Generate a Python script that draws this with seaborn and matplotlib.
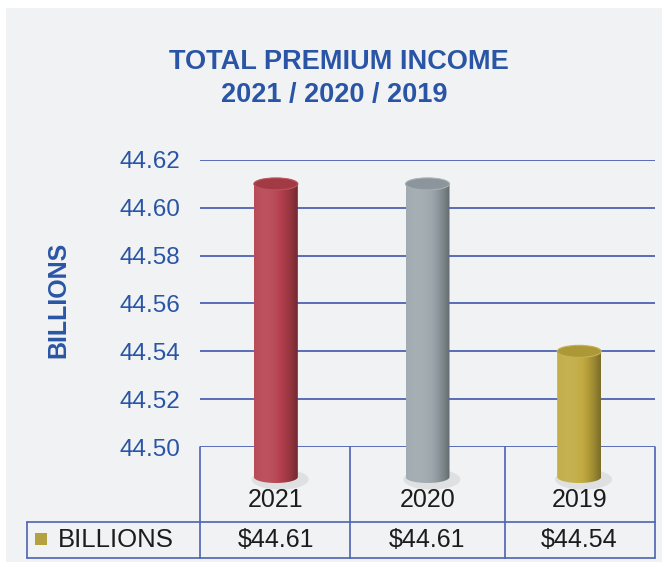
import numpy as np
import pandas as pd
import matplotlib
matplotlib.use("Agg")
import matplotlib.pyplot as plt
from matplotlib.patches import Ellipse, Rectangle
from matplotlib.lines import Line2D
from matplotlib.path import Path
from matplotlib.colors import to_rgb
import seaborn as sns

# ---- data -------------------------------------------------------------
years = ["2021", "2020", "2019"]
premium_billions = [44.61, 44.61, 44.54]
value_labels = ["$44.61", "$44.61", "$44.54"]
y_ticks = [44.50, 44.52, 44.54, 44.56, 44.58, 44.60, 44.62]
bar_colors = ["#b4404c", "#9ba6ac", "#c0a93e"]
row_label = "BILLIONS"
title_lines = ["TOTAL PREMIUM INCOME", "2021 / 2020 / 2019"]

# ---- styling ----------------------------------------------------------
W, H, DPI = 666, 567, 100
BLUE = "#2a55a6"
GRID = "#4d62b3"
PANEL = "#f1f2f3"
INK = "#1c1c1c"

sns.set_theme(style="white")
plt.rcParams["font.family"] = ["Liberation Sans", "DejaVu Sans"]

fig = plt.figure(figsize=(W / DPI, H / DPI), dpi=DPI)
fig.patch.set_facecolor("white")


def fx(px):
    return px / W


def fy(py):
    return 1 - py / H


# light panel behind everything
fig.add_artist(Rectangle((fx(6), fy(562)), fx(656), 554 / H,
                         transform=fig.transFigure, facecolor=PANEL,
                         edgecolor="none", zorder=0))

# plotting area: x 200..655 px, y 160 (44.62) .. 447 (44.50) px
ax = fig.add_axes([fx(200), fy(447), fx(455), (447 - 160) / H])
ax.set_facecolor("none")

df = pd.DataFrame({"year": years, "value": premium_billions})
sns.barplot(data=df, x="year", y="value", hue="year", palette=bar_colors,
            width=0.29, legend=False, ax=ax, saturation=1)

ymin, ymax = y_ticks[0], y_ticks[-1]
ax.set_ylim(ymin, ymax)
ax.set_xlim(-0.5, len(years) - 0.5)
px_per_unit = (447 - 160) / (ymax - ymin)
base = ymin - 30 / px_per_unit          # cylinder floor sits below the axis line
ell_h = 12 / px_per_unit                # height of the cap ellipses


def shade(color, f):
    r, g, b = to_rgb(color)
    if f >= 1:
        return tuple(c + (1 - c) * (f - 1) for c in (r, g, b))
    return tuple(c * f for c in (r, g, b))


def cylinder_outline(x0, w, bottom, top, n=40):
    """Body outline: straight sides, rounded lower edge."""
    cx, a, b = x0 + w / 2, w / 2, ell_h / 2
    th = np.linspace(np.pi, 2 * np.pi, n)
    arc = np.column_stack([cx + a * np.cos(th), bottom + b * np.sin(th)])
    verts = np.vstack([[x0, top], arc, [x0 + w, top], [x0, top]])
    return Path(verts, closed=True)


for patch, val, col in zip(ax.patches, premium_billions, bar_colors):
    x0 = patch.get_x()
    w = patch.get_width()
    cx = x0 + w / 2
    patch.set_visible(False)
    # soft floor shadow
    ax.add_patch(Ellipse((cx + w * 0.1, base - ell_h * 0.2), w * 1.3,
                         ell_h * 1.7, facecolor="#000000", alpha=0.07,
                         edgecolor="none", clip_on=False, zorder=2))
    # body with a horizontal light-to-dark gradient
    t = np.linspace(0, 1, 64)
    fac = 1.06 + 0.06 * np.sin(t * np.pi * 1.2) - 0.38 * t ** 2.5
    grad = np.array([[shade(col, f) for f in fac]])
    im = ax.imshow(grad, extent=[x0, x0 + w, base - ell_h / 2, val],
                   aspect="auto", zorder=3, interpolation="bilinear")
    im.set_clip_box(fig.bbox)
    im.set_clip_path(cylinder_outline(x0, w, base, val), ax.transData)
    # top cap
    ax.add_patch(Ellipse((cx, val), w, ell_h, facecolor=shade(col, 0.9),
                         edgecolor=shade(col, 1.1), linewidth=0.8,
                         clip_on=False, zorder=4))

ax.set_xlim(-0.5, len(years) - 0.5)
ax.set_ylim(ymin, ymax)
ax.set_yticks(y_ticks)
ax.set_yticklabels([f"{v:.2f}" for v in y_ticks], color=BLUE, fontsize=17.5)
ax.tick_params(axis="y", length=0, pad=14)
ax.set_xticks([])
ax.set_xlabel("")
ax.set_ylabel("")
for s in ax.spines.values():
    s.set_visible(False)
for v in y_ticks:
    ax.axhline(v, color=GRID, lw=1.3, zorder=1)

# y-axis caption
fig.text(fx(58), fy(300), row_label, rotation=90, ha="center", va="center",
         color=BLUE, fontsize=18, fontweight="bold")

# title
fig.text(fx(339), fy(62), title_lines[0], ha="center", va="center",
         color=BLUE, fontsize=19.5, fontweight="bold")
fig.text(fx(334), fy(95), title_lines[1], ha="center", va="center",
         color=BLUE, fontsize=19.5, fontweight="bold")

# ---- data table under the plot -----------------------------------------
def hline(y, x0, x1):
    fig.add_artist(Line2D([fx(x0), fx(x1)], [fy(y), fy(y)], color=GRID,
                          lw=1.2, transform=fig.transFigure, zorder=5))


def vline(x, y0, y1):
    fig.add_artist(Line2D([fx(x), fx(x)], [fy(y0), fy(y1)], color=GRID,
                          lw=1.2, transform=fig.transFigure, zorder=5))


col_edges = [200, 350, 505, 655]
hline(522, 27, 655)
hline(558, 27, 655)
for xe in col_edges:
    vline(xe, 447, 558)
vline(27, 522, 558)

for i, (yr, lab) in enumerate(zip(years, value_labels)):
    xc = ax.transData.transform((i, 0))[0] * W / fig.bbox.width
    fig.text(fx(xc), fy(500), yr, ha="center", va="center", color=INK,
             fontsize=18)
    fig.text(fx(xc), fy(540), lab, ha="center", va="center", color=INK,
             fontsize=18)

# legend swatch + row label
fig.add_artist(Rectangle((fx(35), fy(545)), fx(12), 12 / H,
                         transform=fig.transFigure, facecolor="#b3a23f",
                         edgecolor="none", zorder=5))
fig.text(fx(58), fy(540), row_label, ha="left", va="center", color=INK,
         fontsize=18.5)

fig.savefig("out.png", dpi=DPI)
